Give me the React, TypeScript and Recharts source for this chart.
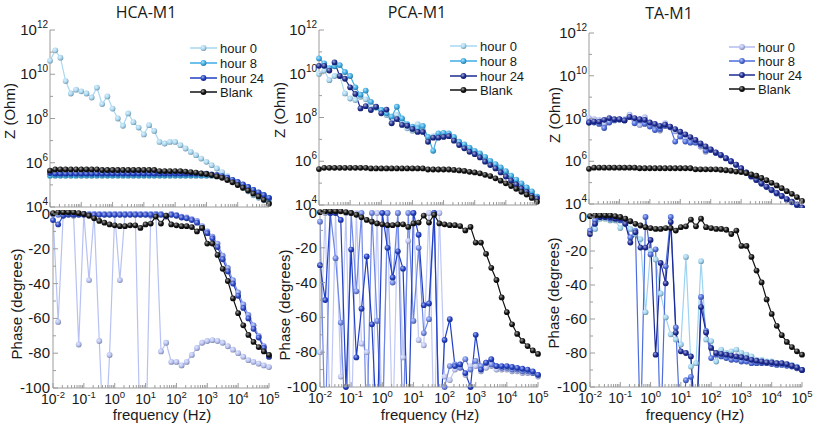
import React from 'react';
import { LineChart, Line, XAxis, YAxis } from 'recharts';

// ---------------- DATA ----------------
const freq = [0.01, 0.0147, 0.0215, 0.0316, 0.0464, 0.0681, 0.1, 0.147, 0.215, 0.316, 0.464, 0.681, 1, 1.47, 2.15, 3.16, 4.64, 6.81, 10, 14.7, 21.5, 31.6, 46.4, 68.1, 100, 147, 215, 316, 464, 681, 1000, 1470, 2150, 3160, 4640, 6810, 10000, 14700, 21500, 31600, 46400, 68100, 100000];

const seriesNames = ['hour 0', 'hour 8', 'hour 24', 'Blank'];
const panelTitles = ['HCA-M1', 'PCA-M1', 'TA-M1'];
const xMajorTicks = [0.01, 0.1, 1, 10, 100, 1000, 10000, 100000];
const zTicks = [1e4, 1e5, 1e6, 1e7, 1e8, 1e9, 1e10, 1e11, 1e12];
const phaseTicks = [-100, -90, -80, -70, -60, -50, -40, -30, -20, -10, 0];

// Blank (shared)
const blankZ = [4.4e5, 5.0e5, 5.0e5, 5.0e5, 5.0e5, 5.0e5, 5.0e5, 5.0e5, 5.0e5, 5.0e5, 4.7e5, 4.7e5, 4.7e5, 4.7e5, 4.7e5, 4.7e5, 4.7e5, 4.7e5, 4.7e5, 4.7e5, 4.7e5, 4.2e5, 4.2e5, 4.2e5, 4.2e5, 4.2e5, 4.0e5, 3.8e5, 3.6e5, 3.3e5, 3.1e5, 2.8e5, 2.4e5, 2.1e5, 1.65e5, 1.3e5, 9.8e4, 7.4e4, 5.5e4, 4.0e4, 3.0e4, 2.1e4, 1.4e4];
const blankP = [0.5, 1, 1, 1, 1, 0.5, 0, -1, -2.5, -4, -5, -6, -6.5, -7, -7, -6.5, -6.5, -8, -6, -5.5, -1.5, -5.5, -1, -6, -6.5, -7, -7, -7.5, -10, -8, -17, -17, -23.5, -31.5, -38.5, -48.5, -57, -64, -69.5, -73.5, -76.5, -79, -81];

// HCA-M1
const hcaZ0 = [4.1e10, 1.2e11, 5.6e10, 4.9e9, 1.35e9, 2.0e9, 1.7e9, 1.35e9, 8.9e8, 2.5e9, 4.5e8, 1.0e9, 2.8e8, 1.0e8, 4.7e7, 1.7e8, 6.8e7, 3.9e7, 1.9e7, 5.0e7, 2.75e7, 8.7e6, 7.4e6, 8.7e6, 8.7e6, 6.2e6, 4.4e6, 3.1e6, 2.2e6, 1.55e6, 1.1e6, 7.8e5, 5.5e5, 3.8e5, 2.5e5, 1.6e5, 1.0e5, 7.2e4, 5.1e4, 3.4e4, 2.6e4, 2.0e4, 1.7e4];
const hcaZ8 = [2.6e5, 2.6e5, 2.6e5, 2.6e5, 2.6e5, 2.6e5, 2.6e5, 2.6e5, 2.6e5, 2.6e5, 2.6e5, 2.6e5, 2.6e5, 2.6e5, 2.6e5, 2.6e5, 2.6e5, 2.6e5, 2.6e5, 2.6e5, 2.6e5, 2.6e5, 2.6e5, 2.6e5, 2.6e5, 2.6e5, 2.6e5, 2.6e5, 2.6e5, 2.6e5, 2.6e5, 2.6e5, 2.5e5, 2.3e5, 2.0e5, 1.65e5, 1.3e5, 1.0e5, 7.8e4, 5.9e4, 4.5e4, 3.4e4, 2.5e4];
const hcaZ24 = [3.4e5, 3.2e5, 3.2e5, 3.2e5, 3.2e5, 3.2e5, 3.2e5, 3.2e5, 3.2e5, 3.2e5, 3.2e5, 3.2e5, 3.2e5, 3.2e5, 3.2e5, 3.2e5, 3.2e5, 3.2e5, 3.2e5, 3.2e5, 3.2e5, 3.2e5, 3.2e5, 3.2e5, 3.2e5, 3.2e5, 3.2e5, 3.2e5, 3.2e5, 3.2e5, 3.2e5, 3.0e5, 2.8e5, 2.5e5, 2.1e5, 1.7e5, 1.35e5, 1.05e5, 8.0e4, 6.0e4, 4.6e4, 3.5e4, 2.6e4];
const hcaP0 = [0, -62, 0, 0, -1, -75, 0, -38, 0, -73, -140, -81, 0, -38, 0, 0, 0, -140, -140, -1, 0, -79, -74, -85, -85, -87, -85, -81, -77, -74, -73, -72.5, -73, -74, -76, -78, -80, -82, -84, -85, -86, -87, -88];
const hcaP8 = [0, -0.5, 0, 0, 0, 0, 0, 0, 0, 0, 0, 0, 0, 0, 0, 0, 0, 0, 0, 0, 0, 0, -1, 0, -0.5, -1.5, -2, -3, -4, -7, -10, -13, -17, -24, -31, -38, -45, -52, -58, -64, -70, -76, -82];
const hcaP24 = [-3.5, -6, -1, -0.5, -0.5, -0.5, -0.5, -0.5, -0.5, -0.5, -0.5, -0.5, -0.5, -0.5, -0.5, -0.5, -0.5, -0.5, -0.5, -0.5, -0.5, -0.5, -1.5, -0.5, -1, -2, -2.5, -3.5, -5, -8, -11, -14, -19, -26, -33, -40, -47, -54, -60, -66, -71, -77, -82];

// PCA-M1
const pcaZ0 = [9.8e9, 1.4e10, 5.1e9, 7.9e9, 7.9e9, 1.26e9, 7.4e8, 6.3e8, 8.9e8, 6.8e8, 2.6e8, 2.9e8, 2.2e8, 1.3e8, 5.7e7, 1.3e8, 5.0e7, 3.2e7, 2.5e7, 5.0e7, 2.7e7, 1.1e7, 1.4e7, 1.7e7, 1.9e7, 1.6e7, 1.1e7, 7.1e6, 5.4e6, 3.9e6, 2.7e6, 2.0e6, 1.45e6, 9.8e5, 6.9e5, 4.7e5, 3.2e5, 2.1e5, 1.4e5, 9.1e4, 5.9e4, 3.9e4, 2.4e4];
const pcaZ8 = [5.0e10, 3.0e10, 1.8e10, 2.2e10, 2.5e10, 1.2e10, 7.9e9, 2.4e9, 1.1e9, 1.7e9, 5.2e8, 2.9e8, 2.2e8, 1.55e8, 1.1e8, 3.1e8, 9.1e7, 5.0e7, 3.8e7, 3.2e7, 4.1e7, 1.3e7, 3.0e6, 1.9e7, 2.0e7, 1.9e7, 1.3e7, 7.8e6, 5.9e6, 4.2e6, 3.0e6, 2.3e6, 1.6e6, 1.05e6, 7.4e5, 5.2e5, 3.5e5, 2.2e5, 1.45e5, 9.8e4, 6.3e4, 4.2e4, 2.4e4];
const pcaZ24 = [2.3e10, 2.3e10, 1.4e10, 3.3e10, 7.9e9, 5.9e9, 2.4e9, 1.2e9, 2.6e8, 3.3e8, 2.2e8, 3.1e8, 1.55e8, 2.3e8, 5.4e7, 8.5e7, 4.6e7, 4.2e7, 3.0e7, 2.2e7, 2.2e7, 7.8e6, 1.2e7, 1.2e7, 1.3e7, 1.4e7, 8.7e6, 5.5e6, 3.9e6, 2.7e6, 2.1e6, 1.5e6, 9.6e5, 6.7e5, 4.7e5, 3.1e5, 2.0e5, 1.3e5, 8.7e4, 5.7e4, 4.0e4, 2.6e4, 2.0e4];
const pcaP0 = [-80, 0, -130, 0, -94, 0, -130, 0, -75, -80, -130, 0, -130, 0, -130, 0, -83, -16, 0, -73, -76, 0, -130, 0, -94, -96, -90, -87, -93, -88, -88, -91, -89, -88, -90, -90, -90, -91, -91, -92, -92, -92, -94];
const pcaP8 = [-5, -130, 0, -26, -63, -130, 0, -45, 0, -130, 0, -62, -130, 0, -40, 0, -130, 0, -62, -20, -69, -61, 0, -130, -100, -88, -87, -89, -84, -90, -85, -88, -86, -87, -88, -89, -89, -90, -90, -91, -91, -92, -93];
const pcaP24 = [-30, -50, 0, 0, -4, -100, -21, -83, -55, -25, -64, -130, 0, -20, -37, -22, -32, -130, 0, -12.5, -53, -52, 0, -130, -73, -61, -88, -87, -92, -100, -70, -90, -86, -84, -88, -88, -88, -88.5, -89, -89.5, -90, -91, -93];

// TA-M1
const taZ0 = [1.05e8, 9.3e7, 8.7e7, 6.0e7, 7.2e7, 8.7e7, 9.3e7, 9.3e7, 1.5e8, 7.2e7, 5.0e7, 1.15e8, 6.0e7, 3.6e7, 2.75e7, 6.0e7, 4.2e7, 2.5e7, 1.45e7, 1.0e7, 9.3e6, 8.3e6, 4.9e6, 2.8e6, 3.6e6, 2.6e6, 1.9e6, 1.4e6, 1.0e6, 7.0e5, 4.7e5, 3.0e5, 2.0e5, 1.35e5, 9.3e4, 6.5e4, 4.6e4, 3.3e4, 2.4e4, 1.7e4, 1.3e4, 9.3e3, 6.9e3];
const taZ8 = [6.5e7, 6.5e7, 5.6e7, 3.6e7, 6.5e7, 8.1e7, 8.7e7, 8.1e7, 1.15e8, 6.0e7, 8.1e7, 5.6e7, 4.2e7, 2.9e7, 3.2e7, 4.5e7, 3.9e7, 8.3e6, 1.45e7, 8.3e6, 7.4e6, 7.4e6, 5.9e6, 3.2e6, 3.3e6, 2.4e6, 1.9e6, 1.35e6, 9.8e5, 6.8e5, 4.5e5, 2.9e5, 1.9e5, 1.3e5, 8.8e4, 6.2e4, 4.4e4, 3.1e4, 2.3e4, 1.6e4, 1.2e4, 8.8e3, 6.5e3];
const taZ24 = [6.5e7, 7.2e7, 7.2e7, 8.7e7, 1.05e8, 9.3e7, 9.3e7, 8.1e7, 1.2e8, 1.05e8, 9.3e7, 8.7e7, 6.5e7, 5.6e7, 4.5e7, 5.2e7, 4.2e7, 3.2e7, 2.4e7, 1.8e7, 1.35e7, 1.0e7, 6.9e6, 4.9e6, 3.6e6, 2.6e6, 2.0e6, 1.4e6, 1.0e6, 6.9e5, 4.7e5, 3.0e5, 2.0e5, 1.35e5, 9.3e4, 6.5e4, 4.6e4, 3.3e4, 2.4e4, 1.7e4, 1.3e4, 9.3e3, 6.9e3];
const taP0 = [-8, -7, -1, -1, -2, -2, -6.5, -3, -7, -10, -13, -56, -20, -25, -45, -59, -69, -72, -75, -23.5, -88, -86, -26, -72, -73, -85, -78, -80, -79, -78, -80, -81, -82, -84, -84, -85, -85, -86, -86, -86.5, -87, -88, -90];
const taP8 = [-8, -2, 0, 0, -1, -1, -2, -4, -12, -8, -130, 0, -22, -19, -130, -29, 0, -65, -130, -96, -94, -130, -47, -67, -83, -81, -82, -83, -84, -84, -85, -85, -86, -86, -86, -86, -86.5, -87, -87, -87.5, -88, -89, -90];
const taP24 = [-10, -4, 0, 0, 0, -1, -1, -4, -15, -9, -18, -18, -13.5, -81, -27, -39, -3, -68, -79, -80, -82, -130, -53, -68, -77, -80, -80.5, -81, -81.5, -82, -82.5, -83, -84, -84.5, -85, -85.5, -85.5, -86, -86, -86.5, -87.5, -88.5, -90];

// ---------------- STYLE / LAYOUT ----------------
const FONT = 'Arial, "Liberation Sans", Helvetica, sans-serif';
const AXIS = '#9c9c9c';
const TEXT = '#1a1a1a';
const keys = ['h0', 'h8', 'h24', 'blank'];

const topColors = [
  ['#a9d8f2', '#3dade6', '#1f3fc2', '#111111'],
  ['#a9d8f2', '#3dade6', '#1b2b8f', '#111111'],
  ['#b2bdf2', '#4d6ddf', '#1b2a96', '#111111'],
];
const botColors = [
  ['#b7c2f3', '#7d93ea', '#2b47c8', '#111111'],
  ['#bfc8f5', '#6e87e6', '#2240c6', '#111111'],
  ['#9ed3f0', '#4d6ddf', '#1b2a96', '#111111'],
];

const topPlots = [
  { x: 50, y: 30, w: 219, h: 177 },
  { x: 319, y: 30, w: 218, h: 175 },
  { x: 589, y: 33, w: 213, h: 171 },
];
const botPlots = [
  { x: 53, y: 214, w: 216, h: 174 },
  { x: 320, y: 213, w: 218, h: 174 },
  { x: 590, y: 217, w: 212, h: 170 },
];
const titlePos = [[146, 18], [417, 18], [669, 19]];
const zTitlePos = [[9, 111], [279, 110], [554, 115]];
const pTitlePos = [[16, 304], [284, 305], [553, 293]];
const fTitlePos = [[162, 420], [430, 420], [695, 420]];
const legendPos = [
  { x1: 190, x2: 217, tx: 220, ys: [48, 63, 78, 92] },
  { x1: 450, x2: 477, tx: 480, ys: [46, 61, 76, 90] },
  { x1: 729, x2: 755, tx: 758, ys: [47, 61, 75, 89] },
];

const xTicks: number[] = [];
xMajorTicks.forEach((m, i) => {
  xTicks.push(m);
  if (i < xMajorTicks.length - 1) for (let k = 2; k <= 9; k++) xTicks.push(m * k);
});

const mix = (hex: string, t: string, a: number) => {
  const p = (h: string) => [1, 3, 5].map((i) => parseInt(h.slice(i, i + 2), 16));
  const c1 = p(hex), c2 = p(t);
  return '#' + c1.map((v, i) => Math.round(v + (c2[i] - v) * a).toString(16).padStart(2, '0')).join('');
};
const gid = (c: string) => 'sph' + c.slice(1);

const isMajorLog = (v: number) => {
  const lg = Math.log10(v);
  return Math.abs(lg - Math.round(lg)) < 1e-6;
};

const makeXTick = (labels: boolean) => (p: any) => {
  const v = p.payload.value;
  const major = isMajorLog(v);
  const e = Math.round(Math.log10(v));
  return (
    <g>
      <line x1={p.x} x2={p.x} y1={p.y} y2={p.y - (major ? 5 : 3)} stroke={AXIS} />
      {labels && major ? (
        <text x={p.x} y={p.y + 16} textAnchor="middle" fontFamily={FONT} fontSize={14} fill={TEXT}>
          10<tspan dy={-6} fontSize={9.5}>{e}</tspan>
        </text>
      ) : null}
    </g>
  );
};

const makeYTick = (kind: string, side: string) => (p: any) => {
  const v = p.payload.value;
  const dir = side === 'left' ? 1 : -1;
  let major: boolean;
  let label: any = null;
  if (kind === 'z') {
    const e = Math.round(Math.log10(v));
    major = e % 2 === 0;
    if (major && side === 'left')
      label = (
        <text x={p.x - 2} y={p.y + 5} textAnchor="end" fontFamily={FONT} fontSize={15} fill={TEXT}>
          10<tspan dy={-7} fontSize={10}>{e}</tspan>
        </text>
      );
  } else {
    major = Math.round(v) % 20 === 0;
    if (major && side === 'left')
      label = (
        <text x={p.x - 3} y={p.y + 5} textAnchor="end" fontFamily={FONT} fontSize={15} fill={TEXT}>
          {String(v)}
        </text>
      );
  }
  return (
    <g>
      <line x1={p.x} x2={p.x + dir * (major ? 5 : 3)} y1={p.y} y2={p.y} stroke={AXIS} />
      {label}
    </g>
  );
};

type Plot = { x: number; y: number; w: number; h: number };

function Panel({ plot, rows, colors, kind, labels }: { plot: Plot; rows: any[]; colors: string[]; kind: string; labels: boolean }) {
  const L = 56, R = 16, T = 20, B = labels ? 34 : 14;
  const yDomain = kind === 'z' ? [1e4, 1e12] : [-100, 0];
  const yTicks = kind === 'z' ? zTicks : phaseTicks;
  const yScale = kind === 'z' ? 'log' : 'linear';
  return (
    <div style={{ position: 'absolute', left: plot.x - L, top: plot.y - T }}>
      <LineChart width={plot.w + L + R} height={plot.h + T + B} data={rows} margin={{ top: T, right: R, bottom: 0, left: 0 }}>
        <XAxis dataKey="f" type="number" scale="log" domain={[0.01, 1e5]} allowDataOverflow ticks={xTicks} interval={0} tickSize={0} tickMargin={0} tickLine={false} axisLine={{ stroke: AXIS }} height={B} tick={makeXTick(labels)} />
        <XAxis xAxisId="top" dataKey="f" orientation="top" type="number" scale="log" domain={[0.01, 1e5]} allowDataOverflow height={0} tick={false} tickLine={false} axisLine={{ stroke: AXIS }} />
        <YAxis type="number" scale={yScale as any} domain={yDomain} allowDataOverflow ticks={yTicks} interval={0} tickSize={0} tickMargin={0} tickLine={false} axisLine={{ stroke: AXIS }} width={L} tick={makeYTick(kind, 'left')} />
        <YAxis yAxisId="right" orientation="right" type="number" scale={yScale as any} domain={yDomain} allowDataOverflow ticks={yTicks} interval={0} tickSize={0} tickMargin={0} tickLine={false} axisLine={{ stroke: AXIS }} width={0} tick={makeYTick(kind, 'right')} />
        {keys.map((k, i) => (
          <Line
            key={k}
            dataKey={k}
            stroke={colors[i]}
            strokeWidth={1.2}
            dot={{ r: 2.9, fill: `url(#${gid(colors[i])})`, stroke: 'none', clipDot: false } as any}
            activeDot={false}
            isAnimationActive={false}
          />
        ))}
      </LineChart>
    </div>
  );
}

const build = (a: number[], b: number[], c: number[], d: number[]) =>
  freq.map((f, i) => ({ f, h0: a[i], h8: b[i], h24: c[i], blank: d[i] }));

const topRows = [
  build(hcaZ0, hcaZ8, hcaZ24, blankZ),
  build(pcaZ0, pcaZ8, pcaZ24, blankZ),
  build(taZ0, taZ8, taZ24, blankZ),
];
const botRows = [
  build(hcaP0, hcaP8, hcaP24, blankP),
  build(pcaP0, pcaP8, pcaP24, blankP),
  build(taP0, taP8, taP24, blankP),
];

export default function App() {
  const allColors = Array.from(new Set([...topColors.flat(), ...botColors.flat()]));
  return (
    <div style={{ position: 'absolute', left: 0, top: 0, width: 813, height: 425, background: '#fff', overflow: 'hidden' }}>
      <svg width={0} height={0} style={{ position: 'absolute' }}>
        <defs>
          {allColors.map((c) => (
            <radialGradient key={c} id={gid(c)} cx="0.38" cy="0.35" r="0.7">
              <stop offset="0" stopColor={mix(c, '#ffffff', 0.6)} />
              <stop offset="0.55" stopColor={c} />
              <stop offset="1" stopColor={mix(c, '#000000', 0.35)} />
            </radialGradient>
          ))}
        </defs>
      </svg>
      {topPlots.map((p, i) => (
        <Panel key={'t' + i} plot={p} rows={topRows[i]} colors={topColors[i]} kind="z" labels={false} />
      ))}
      {botPlots.map((p, i) => (
        <Panel key={'b' + i} plot={p} rows={botRows[i]} colors={botColors[i]} kind="phase" labels={true} />
      ))}
      <svg width={813} height={425} style={{ position: 'absolute', left: 0, top: 0, pointerEvents: 'none' }}>
        {panelTitles.map((t, i) => (
          <text key={t} x={titlePos[i][0]} y={titlePos[i][1]} textAnchor="middle" fontFamily='"Open Sans", "Noto Sans", sans-serif' fontSize={16} fill={TEXT}>
            {t}
          </text>
        ))}
        {zTitlePos.map((p, i) => (
          <text key={'z' + i} transform={`translate(${p[0]},${p[1]}) rotate(-90)`} textAnchor="middle" dominantBaseline="central" fontFamily={FONT} fontSize={15} fill={TEXT}>
            Z (Ohm)
          </text>
        ))}
        {pTitlePos.map((p, i) => (
          <text key={'p' + i} transform={`translate(${p[0]},${p[1]}) rotate(-90)`} textAnchor="middle" dominantBaseline="central" fontFamily={FONT} fontSize={15} fill={TEXT}>
            Phase (degrees)
          </text>
        ))}
        {fTitlePos.map((p, i) => (
          <text key={'f' + i} x={p[0]} y={p[1]} textAnchor="middle" fontFamily={FONT} fontSize={15} fill={TEXT}>
            frequency (Hz)
          </text>
        ))}
        {legendPos.map((lg, i) => (
          <g key={'lg' + i}>
            {seriesNames.map((n, j) => (
              <g key={n}>
                <line x1={lg.x1} x2={lg.x2} y1={lg.ys[j]} y2={lg.ys[j]} stroke={topColors[i][j]} strokeWidth={1.5} />
                <circle cx={(lg.x1 + lg.x2) / 2} cy={lg.ys[j]} r={2.9} fill={`url(#${gid(topColors[i][j])})`} />
                <text x={lg.tx} y={lg.ys[j] + 4.5} fontFamily={FONT} fontSize={13} fill={TEXT}>
                  {n}
                </text>
              </g>
            ))}
          </g>
        ))}
      </svg>
    </div>
  );
}
